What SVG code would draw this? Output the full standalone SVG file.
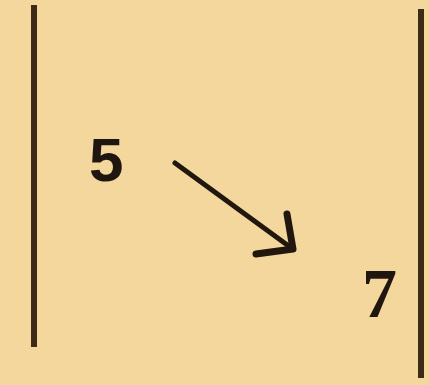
<svg xmlns="http://www.w3.org/2000/svg" width="429" height="385" viewBox="0 0 429 385">
<style>
.bar{stroke:#3e2b17;stroke-width:6;fill:none}
.arr{stroke:#21170f;fill:none;stroke-linecap:round;stroke-linejoin:round}
.num{fill:#1f1610}
</style>
<rect width="429" height="385" fill="#f3d79d"/>
<g id="left-bar"><line class="bar" x1="34" y1="5" x2="34" y2="347"/></g>
<g id="right-bar"><line class="bar" x1="421" y1="9" x2="421" y2="378"/></g>
<g id="n5"><text class="num" x="89" y="181" font-family="Liberation Sans, Arial, sans-serif" font-weight="bold" font-size="62">5</text></g>
<g id="n7"><text class="num" x="362" y="317" font-family="Liberation Serif, Times New Roman, serif" font-weight="bold" font-size="70">7</text></g>
<g id="connectors">
<line class="arr" stroke-width="5" x1="175" y1="163" x2="290" y2="247"/>
<polyline class="arr" stroke-width="7" points="287,214 293,249 256,254"/>
</g>
</svg>
